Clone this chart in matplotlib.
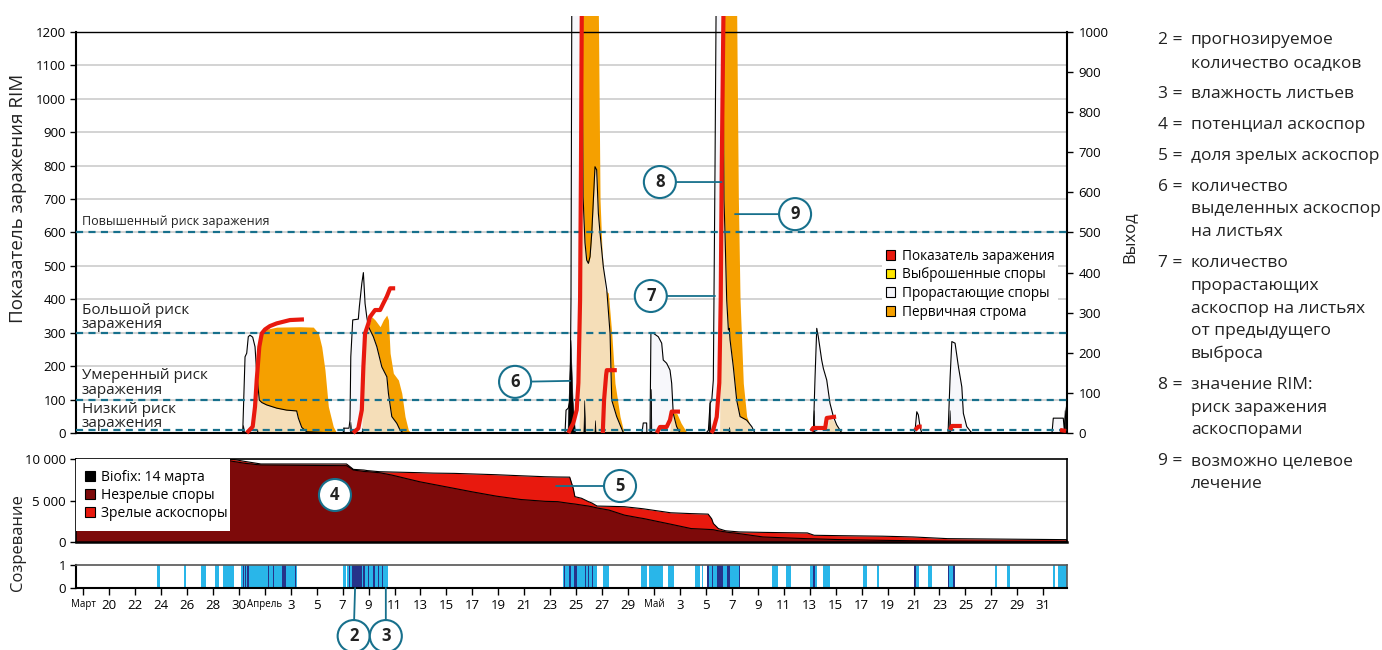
import numpy as np
import matplotlib
matplotlib.use('Agg')
import matplotlib.pyplot as plt
from matplotlib.patches import Patch, Rectangle

plt.rcParams['font.family'] = ['Open Sans', 'DejaVu Sans']

nan = np.nan

# ---------------- data (x = days since 1 March) ----------------
x_ticks = list(range(17, 92, 2))
x_labels = ['Март', '20', '22', '24', '26', '28', '30', 'Апрель', '3', '5', '7', '9', '11', '13',
            '15', '17', '19', '21', '23', '25', '27', '29', 'Май', '3', '5', '7', '9', '11', '13',
            '15', '17', '19', '21', '23', '25', '27', '29', '31']
month_labels = ['Март', 'Апрель', 'Май']

# RIM infection index (left axis)
rim_days = [29.61, 30.07, 30.25, 30.38, 30.58, 30.77, 31.02, 31.40, 31.92, 32.43, 32.94, 34.02, nan,
            37.81, 38.21, 38.48, 38.60, 38.73, 38.99, 39.12, 39.50, 39.89, 40.14, 40.40, 40.66, 41.05, nan,
            54.39, 54.78, 55.04, 55.17, 55.30, 55.37, 55.43, nan,
            57.05, 57.15, 57.31, 57.36, 58.13, nan,
            61.21, 61.46, 61.97, 62.23, 62.36, 63.00, nan,
            65.41, 65.57, 65.83, 66.03, 66.14, 66.22, 66.35, nan,
            73.11, 73.26, 74.19, 74.31, 75.03, nan,
            81.12, 81.37, 81.63, nan,
            83.82, 83.95, 84.72, nan,
            92.29, 92.75]
rim_vals = [0, 19, 79, 159, 258, 298, 310, 320, 328, 333, 338, 340, nan,
            0, 14, 69, 198, 298, 328, 348, 368, 368, 388, 408, 433, 433, nan,
            0, 30, 69, 150, 398, 796, 1254, nan,
            0, 99, 174, 188, 188, nan,
            0, 18, 18, 39, 64, 64, nan,
            0, 10, 48, 150, 398, 796, 1254, nan,
            6, 15, 15, 45, 49, nan,
            9, 19, 19, nan,
            9, 21, 21, nan,
            9, 6]

# germinating spores (right axis)
germ_days = [16.43,
             29.30, 29.48, 29.61, 29.73, 29.86, 30.07, 30.25, 30.38, 30.58, 30.77, 31.15, 31.92, 32.69,
             33.46, 33.59, 33.85, 34.23, 36.28,
             37.03, 37.11, 37.49, 37.57, 37.63, 37.78, 38.21, 38.29, 38.48, 38.60, 38.73, 38.86, 38.99,
             39.37, 39.64, 40.02, 40.41, 40.53, 40.79, 41.18, 41.43, 41.69,
             53.99, 54.14, 54.22, 54.39, 54.53, 54.60, 54.66, 55.45, 55.53, 55.68, 55.81, 55.94, 56.07,
             56.20, 56.45, 56.58, 56.71, 56.84, 57.09, 57.36, 57.61, 57.74, 58.12, 58.64,
             60.07, 60.17, 60.43, 60.45, 60.69, 60.76, 60.94, 61.33, 61.59, 61.71, 61.97, 62.23, 62.36,
             62.48, 62.74, 63.00,
             65.01, 65.19, 65.32, 65.45, 65.57, 65.70, 65.78, 66.30, 66.39, 66.47, 66.60, 66.73, 66.80,
             66.86, 67.11, 67.37, 67.63, 68.14, 68.53, 68.78,
             73.18, 73.28, 73.41, 73.54, 73.66, 73.92, 74.05, 74.31, 74.56, 74.82, 75.08, 75.47,
             81.04, 81.12, 81.25, 81.37, 81.50, 81.63,
             83.66, 83.82, 83.95, 84.20, 84.46, 84.72, 84.84, 85.10, 85.49,
             91.67, 91.77, 92.54, 92.62, 92.75, 92.85]
germ_vals = [0,
             0, 190, 199, 240, 244, 239, 215, 149, 82, 76, 70, 62, 57, 55, 37, 14, 3, 0,
             0, 12, 12, 32, 190, 282, 284, 315, 373, 400, 323, 290, 265, 240, 215, 165, 140, 99, 41, 24, 7, 0,
             0, 0, 57, 62, 82, 332, 1045, 1045, 589, 474, 431, 423, 440, 498, 664, 656, 548, 498, 415, 357,
             249, 82, 41, 0,
             0, 25, 25, 0, 0, 249, 249, 240, 224, 182, 174, 157, 124, 49, 16, 0,
             0, 7, 74, 82, 132, 663, 1045, 1045, 581, 498, 332, 257, 261, 232, 165, 82, 41, 32, 16, 0,
             0, 3, 140, 261, 240, 182, 161, 132, 74, 41, 20, 0,
             0, 7, 53, 45, 16, 0,
             0, 140, 228, 224, 165, 115, 49, 16, 0,
             0, 37, 37, 7, 57, 80]

# primary stroma (right axis)
stroma_days = [16.43,
               30.07, 30.25, 30.38, 30.58, 30.77, 30.89, 31.92, 33.72, 34.74, 35.13, 35.39, 35.64, 35.90,
               36.28, 36.54,
               38.48, 38.60, 38.73, 38.99, 39.24, 39.50, 39.89, 40.14, 40.40, 40.53, 40.66, 40.91, 41.30,
               41.56, 41.81, 42.07, 42.33,
               55.22, 55.30, 55.37, 55.43, 56.71, 56.84, 56.99, 57.22, 57.48, 57.74, 57.99, 58.38, 58.69,
               62.20, 62.36, 62.77, 63.08, 63.55,
               66.05, 66.14, 66.22, 66.35, 67.37, 67.50, 67.63, 67.88, 68.14, 68.40, 68.55,
               74.25, 74.49, 74.80, 75.18, 75.57,
               92.85]
stroma_vals = [0,
               0, 66, 132, 215, 248, 257, 264, 265, 264, 249, 215, 157, 66, 16, 0,
               0, 165, 248, 265, 290, 282, 265, 282, 294, 282, 199, 149, 132, 99, 41, 7, 0,
               0, 332, 663, 1045, 1045, 581, 456, 357, 349, 249, 124, 41, 0,
               0, 53, 48, 25, 0,
               0, 330, 663, 1045, 1045, 581, 332, 124, 41, 20, 0,
               0, 37, 32, 12, 0,
               0]

# ejected spores on leaves (right axis)
eject_days = [16.43,
              29.28, 29.33, 29.40, 29.45,
              30.38, 30.42, 30.46,
              37.02, 37.06, 37.10,
              37.55, 37.60, 37.66,
              38.44, 38.50, 38.56,
              54.33, 54.56, 54.72, 54.91,
              55.55, 55.62, 55.70,
              56.40, 56.45, 56.50,
              60.70, 60.76, 60.80,
              65.20, 65.28, 65.36,
              66.72, 66.78, 66.84,
              73.22, 73.30, 73.38,
              83.72, 83.78, 83.84,
              92.58, 92.64, 92.70,
              92.85]
eject_vals = [0,
              0, 20, 5, 0,
              0, 10, 0,
              0, 15, 0,
              0, 28, 0,
              0, 12, 0,
              0, 232, 82, 0,
              0, 82, 0,
              0, 32, 0,
              0, 110, 0,
              0, 82, 0,
              0, 15, 0,
              0, 57, 0,
              0, 57, 0,
              0, 57, 0,
              0]

# ascospore maturation
mat_days = [16.43, 27.9, 28.6, 29.5, 30.7, 37.3, 37.57, 37.83, 38.64, 38.91, 39.85, 40.79, 41.86, 42.94,
            44.01, 45.63, 46.97, 48.85, 50.73, 52.61, 53.58, 54.50, 54.77, 54.90, 55.42, 55.95, 56.21,
            56.61, 57.53, 58.72, 59.90, 60.17, 62.28, 63.86, 65.17, 65.44, 65.57, 65.96, 66.49, 66.62,
            67.55, 69.39, 70.71, 72.82, 73.34, 75.45, 78.61, 80.98, 83.62, 92.85]
mat_total = [10000, 10000, 9950, 9700, 9400, 9400, 9073, 8750, 8669, 8600, 8468, 8430, 8390, 8350, 8300,
             8266, 8200, 8105, 7980, 7863, 7830, 7814, 6478, 5466, 5263, 4858, 4700, 4332, 4300, 4251,
             4049, 4000, 3522, 3420, 3360, 2800, 2227, 1619, 1360, 1336, 1215, 1160, 1130, 1093, 810,
             760, 700, 607, 405, 283]
mat_immature = [10000, 9900, 9700, 9476, 9274, 9194, 8952, 8669, 8500, 8468, 8347, 8065, 7661, 7258,
                6935, 6452, 6048, 5524, 5121, 4900, 4858, 4650, 4600, 4575, 4450, 4330, 4251, 4100, 3846,
                3239, 2900, 2834, 2146, 1619, 1520, 1498, 1480, 1350, 1215, 1180, 1012, 607, 526, 400,
                380, 283, 202, 150, 120, 81]

# leaf wetness and forecast rain periods
wet_start = [22.72, 24.78, 26.09, 27.19, 27.78, 29.17, 37.01, 37.36, 54.01, 57.04, 60.00, 60.64, 62.06,
             64.15, 64.67, 65.06, 70.11, 71.17, 73.02, 74.04, 77.08, 78.16, 81.04, 82.09, 83.68, 87.27,
             88.18, 91.72, 92.11]
wet_end = [22.93, 24.93, 26.47, 27.47, 28.63, 33.51, 37.26, 40.52, 56.58, 57.55, 60.48, 61.71, 62.56,
           64.54, 64.80, 67.63, 70.57, 71.56, 73.58, 74.56, 77.39, 78.36, 81.42, 82.40, 84.19, 87.40,
           88.43, 91.90, 92.85]
rain_start = [29.30, 29.48, 29.66, 30.38, 30.76, 31.23, 31.66, 32.31, 33.33, 37.47, 37.72, 38.55, 38.98,
              39.32, 39.75, 40.01, 54.06, 54.47, 54.83, 55.68, 55.93, 56.20, 65.11, 65.44, 65.83, 66.60,
              67.55, 73.27, 81.04, 83.68, 84.06]
rain_end = [29.40, 29.56, 29.79, 30.43, 30.81, 31.35, 31.72, 32.64, 33.41, 37.57, 38.47, 38.73, 39.06,
            39.50, 39.83, 40.13, 54.16, 54.58, 55.04, 55.76, 56.01, 56.27, 65.21, 65.57, 66.34, 66.85,
            67.65, 73.41, 81.17, 83.76, 84.19]

risk_levels = [600, 300, 100, 10]
risk_texts = ['Повышенный риск заражения', 'Большой риск\nзаражения',
              'Умеренный риск\nзаражения', 'Низкий риск\nзаражения']
risk_text_y = [634, 345, 150, 49]

legend_main = ['Показатель заражения', 'Выброшенные споры', 'Прорастающие споры', 'Первичная строма']
legend_mat = ['Biofix: 14 марта', 'Незрелые споры', 'Зрелые аскоспоры']

notes = [('2 =', ['прогнозируемое', 'количество осадков']),
         ('3 =', ['влажность листьев']),
         ('4 =', ['потенциал аскоспор']),
         ('5 =', ['доля зрелых аскоспор']),
         ('6 =', ['количество', 'выделенных аскоспор', 'на листьях']),
         ('7 =', ['количество', 'прорастающих', 'аскоспор на листьях', 'от предыдущего', 'выброса']),
         ('8 =', ['значение RIM:', 'риск заражения', 'аскоспорами']),
         ('9 =', ['возможно целевое', 'лечение'])]

# ---------------- colours ----------------
C_RED = '#e8190e'
C_DARK = '#7d0a0a'
C_ORANGE = '#f5a000'
C_GERM = '#f5f5fa'
C_YELLOW = '#ffe600'
C_TEAL = '#17708c'
C_WET = '#29b6e9'
C_RAIN = '#26338a'
C_GRID = '#cccccc'

XMIN, XMAX = 16.43, 92.85

fig = plt.figure(figsize=(13.82, 6.5), dpi=100)
L, W = 0.05478, 0.71751
ax2 = fig.add_axes([L, 0.33385, W, 0.61692])          # right scale (spores)
ax = fig.add_axes([L, 0.33385, W, 0.61692], sharex=ax2)  # left scale (RIM)
axm = fig.add_axes([L, 0.16615, W, 0.1277])
axw = fig.add_axes([L, 0.09538, W, 0.03538])

# ---- spores on right axis ----
ax2.set_xlim(XMIN, XMAX)
ax2.set_ylim(0, 1000)
for lv in range(100, 1200, 100):
    ax2.axhline(lv * 1000 / 1200, color=C_GRID, lw=1.2, zorder=0)
clip = Rectangle((0, -0.1), 1, 1.141, transform=ax2.transAxes, visible=False)
ax2.add_patch(clip)
p1 = ax2.fill_between(stroma_days, stroma_vals, color=C_ORANGE, lw=0, zorder=1)
p2 = ax2.fill_between(germ_days, germ_vals, color=C_GERM, alpha=0.74, lw=0, zorder=2)
l1, = ax2.plot(germ_days, germ_vals, color='black', lw=0.8, zorder=3)
p3 = ax2.fill_between(eject_days, eject_vals, color='black', lw=0.4, zorder=4)
for art in (p1, p2, l1, p3):
    art.set_clip_path(clip)
ax2.yaxis.tick_right()
ax2.set_yticks(range(0, 1001, 100))
ax2.tick_params(axis='y', labelsize=9.5, length=4, width=1, pad=4)
ax2.set_xticks([])
for s in ax2.spines.values():
    s.set_visible(False)

# ---- RIM on left axis ----
ax.patch.set_visible(False)
ax.set_ylim(0, 1200)
for lvl in risk_levels:
    ax.axhline(lvl, color=C_TEAL, lw=1.6, ls=(0, (3.2, 2.4)), zorder=3)
for txt, ty in zip(risk_texts, risk_text_y):
    fs = 9 if '\n' not in txt else 11
    ax.text(0.006, ty, txt, transform=ax.get_yaxis_transform(), fontsize=fs, va='center', ha='left',
            linespacing=0.95, color='#222222', zorder=4)
rl, = ax.plot(rim_days, rim_vals, color=C_RED, lw=3, zorder=5, solid_capstyle='butt')
rl.set_clip_path(Rectangle((0, -0.1), 1, 1.141, transform=ax.transAxes))
ax.set_yticks(range(0, 1201, 100))
ax.tick_params(axis='y', labelsize=9.5, length=4, width=1, pad=3)
ax.tick_params(axis='x', bottom=False, labelbottom=False)
for k in ['left', 'bottom', 'right']:
    ax.spines[k].set_linewidth(1.5)
    ax.spines[k].set_color('black')
ax.spines['top'].set_linewidth(1.0)

handles = [Patch(fc=c, ec='black', lw=0.8) for c in (C_RED, C_YELLOW, C_GERM, C_ORANGE)]
leg = ax.legend(handles, legend_main, loc='upper left', bbox_to_anchor=(0.813, 0.47), fontsize=9.8,
                frameon=True, facecolor='white', edgecolor='none', framealpha=1, fancybox=False,
                handlelength=0.7, handleheight=0.7, handletextpad=0.45, labelspacing=0.27,
                borderpad=0.3, borderaxespad=0)
leg.set_zorder(8)

# ---- maturation ----
axm.set_xlim(XMIN, XMAX)
axm.set_ylim(0, 10000)
axm.axhline(5000, color=C_GRID, lw=1.0, zorder=0)
axm.fill_between(mat_days, mat_total, color=C_RED, lw=0, zorder=1)
axm.fill_between(mat_days, mat_immature, color=C_DARK, lw=0, zorder=2)
axm.plot(mat_days, mat_total, color='black', lw=0.8, zorder=3)
axm.plot(mat_days, mat_immature, color='black', lw=0.8, zorder=3)
axm.add_patch(Rectangle((0, 0.133), 0.1556, 0.867, transform=axm.transAxes, fc='white', ec='none',
                        zorder=4))
mh = [Patch(fc=c, ec='black', lw=0.8) for c in ('black', C_DARK, C_RED)]
lm = axm.legend(mh, legend_mat, loc='upper left', bbox_to_anchor=(0.004, 0.93), fontsize=10, frameon=False,
                handlelength=0.75, handleheight=0.75, handletextpad=0.4, labelspacing=0.22,
                borderpad=0.35, borderaxespad=0)
lm.set_zorder(5)
axm.set_yticks([0, 5000, 10000])
axm.set_yticklabels(['0', '5 000', '10 000'])
axm.tick_params(axis='y', labelsize=9.5, length=4, width=1, pad=3)
axm.tick_params(axis='x', bottom=False, labelbottom=False)
for s in axm.spines.values():
    s.set_linewidth(1.2)
    s.set_color('black')
axm.spines['bottom'].set_linewidth(1.8)

# ---- wetness / rain ----
axw.set_xlim(XMIN, XMAX)
axw.set_ylim(0, 1)
axw.broken_barh([(s, e - s) for s, e in zip(wet_start, wet_end)], (0, 1), facecolors=C_WET, lw=0)
axw.broken_barh([(s, e - s) for s, e in zip(rain_start, rain_end)], (0, 1), facecolors=C_RAIN, lw=0)
axw.set_yticks([0, 1])
axw.tick_params(axis='y', labelsize=9.5, length=4, width=1, pad=3)
axw.set_xticks(x_ticks)
axw.set_xticklabels(x_labels)
axw.tick_params(axis='x', labelsize=9.5, length=5, width=1, pad=3)
for t in axw.get_xticklabels():
    if t.get_text() in month_labels:
        t.set_fontsize(7)
for k in ['left', 'bottom']:
    axw.spines[k].set_linewidth(1.5)
    axw.spines[k].set_color('black')
for k in ['top', 'right']:
    axw.spines[k].set_linewidth(1.2)
    axw.spines[k].set_color('#555555')

# ---- axis titles ----
fig.text(18 / 1382, 1 - 198 / 650, 'Показатель заражения RIM', rotation=90, ha='center', va='center',
         fontsize=13.5, color='#222222')
fig.text(1130 / 1382, 1 - 237 / 650, 'Выход', rotation=90, ha='center', va='center', fontsize=12,
         color='#222222')
fig.text(18 / 1382, 1 - 543 / 650, 'Созревание', rotation=90, ha='center', va='center', fontsize=12,
         color='#222222')


# ---- callouts ----
def callout(axis, label, xy, xytext):
    axis.annotate(label, xy=xy, xytext=xytext, textcoords='data', fontsize=12, fontweight='bold',
                  ha='center', va='center', color='#222222', annotation_clip=False, zorder=10,
                  bbox=dict(boxstyle='circle,pad=0.42', fc='white', ec=C_TEAL, lw=1.5),
                  arrowprops=dict(arrowstyle='-', color=C_TEAL, lw=1.3, shrinkA=0, shrinkB=0))


callout(ax, '6', (54.53, 156), (50.29, 153))
callout(ax, '7', (65.70, 410), (60.75, 410))
callout(ax, '8', (66.20, 751), (61.45, 751))
callout(ax, '9', (67.24, 655), (71.87, 655))
callout(axm, '4', (36.41, 5663), (36.41, 5663))
callout(axm, '5', (53.45, 6747), (58.38, 6747))
callout(axw, '2', (37.96, 0), (37.85, -2.09))
callout(axw, '3', (40.33, 0), (40.33, -2.09))

# ---- notes on the right ----
ypx = 40
for num, lines in notes:
    fig.text(1158 / 1382, 1 - ypx / 650, num, fontsize=12.5, va='center', ha='left', color='#222222')
    for i, ln in enumerate(lines):
        fig.text(1191 / 1382, 1 - (ypx + i * 22.7) / 650, ln, fontsize=12.5, va='center', ha='left',
                 color='#222222')
    ypx += (len(lines) - 1) * 22.7 + 31

fig.savefig('out.png', dpi=100)
